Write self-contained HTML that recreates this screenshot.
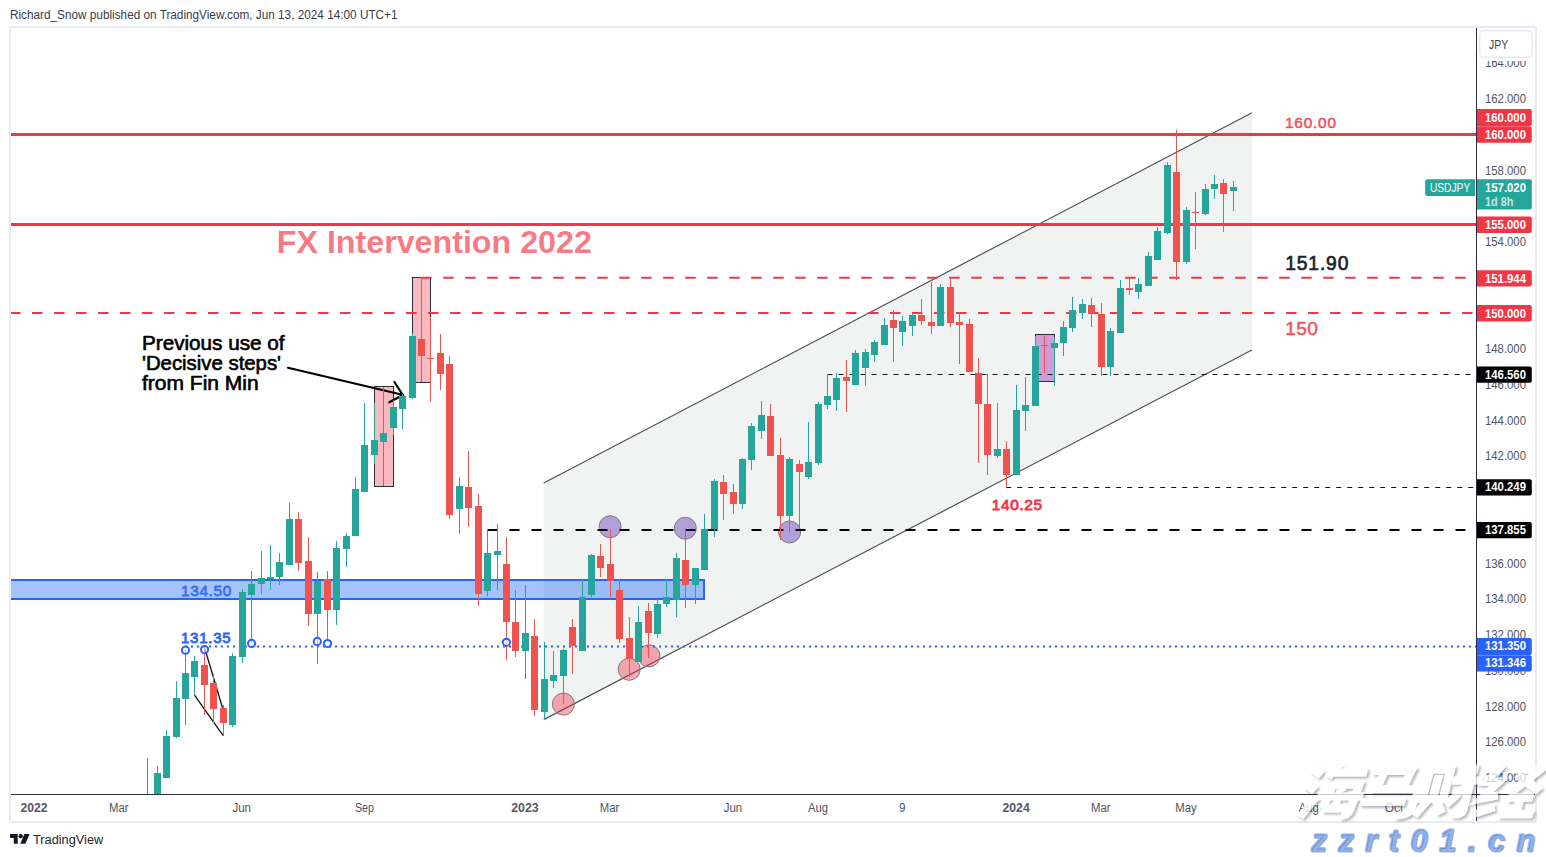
<!DOCTYPE html>
<html><head><meta charset="utf-8"><title>USDJPY</title>
<style>
html,body{margin:0;padding:0;background:#fff;}
body{width:1546px;height:857px;overflow:hidden;font-family:"Liberation Sans",sans-serif;}
svg{display:block;position:absolute;left:0;top:0;}
svg text{font-family:"Liberation Sans",sans-serif;}
</style></head><body>
<svg width="1546" height="857" viewBox="0 0 1546 857">
<defs>
<filter id="ws" x="-10%" y="-10%" width="125%" height="130%"><feDropShadow dx="2" dy="2" stdDeviation="1.1" flood-color="#3c3f4a" flood-opacity="0.5"/></filter>
<clipPath id="plot"><rect x="11" y="28" width="1465" height="766"/></clipPath>
</defs>
<rect width="1546" height="857" fill="#fff"/>
<!-- header -->
<text x="10" y="19.3" font-size="12" fill="#383b46" textLength="387.5" lengthAdjust="spacingAndGlyphs">Richard_Snow published on TradingView.com, Jun 13, 2024 14:00 UTC+1</text>
<!-- frame -->
<rect x="10" y="27" width="1526" height="795" fill="#fff" stroke="#e9ebf2" stroke-width="2"/>

<g clip-path="url(#plot)">
<!-- channel -->
<polygon points="543.7,483 1252,112.8 1252,350 543.7,719.6" fill="#f1f3f3"/>
<line x1="543.7" y1="483" x2="1252" y2="112.8" stroke="#4c4f5a" stroke-width="1.2"/>
<line x1="543.7" y1="719.6" x2="1252" y2="350" stroke="#4c4f5a" stroke-width="1.2"/>
<!-- blue band -->
<rect x="8" y="580" width="696" height="19" fill="rgb(51,122,242)" fill-opacity="0.45" stroke="#2962ff" stroke-width="2"/>
<text x="181" y="596" font-size="15.3" fill="#2962ff" stroke="#2962ff" stroke-width="0.8" fill-opacity="0.8" stroke-opacity="0.8" textLength="50.2" lengthAdjust="spacing">134.50</text>
<!-- pink / purple rects -->
<rect x="374.5" y="386.5" width="19" height="100" fill="#f23645" fill-opacity="0.35" stroke="#2a2e39" stroke-width="1"/>
<rect x="412.5" y="277.5" width="18" height="105" fill="#f23645" fill-opacity="0.35" stroke="#2a2e39" stroke-width="1"/>
<rect x="1035.5" y="334.5" width="19" height="47" fill="#9c27b0" fill-opacity="0.42" stroke="#2a2e39" stroke-width="1"/>
<!-- circles -->
<g stroke="#787b86" stroke-width="1">
<circle cx="610.1" cy="526.7" r="11" fill="#673ab7" fill-opacity="0.45"/>
<circle cx="685.3" cy="528.2" r="11" fill="#673ab7" fill-opacity="0.45"/>
<circle cx="789.6" cy="532" r="11" fill="#673ab7" fill-opacity="0.45"/>
<circle cx="563.4" cy="704.1" r="11" fill="#f23645" fill-opacity="0.42"/>
<circle cx="629.2" cy="669.3" r="11" fill="#f23645" fill-opacity="0.42"/>
<circle cx="649" cy="655.9" r="11" fill="#f23645" fill-opacity="0.42"/>
</g>
<!-- horizontal solid red lines -->
<rect x="11" y="133" width="1466" height="3" fill="#f23645"/>
<rect x="11" y="223" width="1466" height="3" fill="#f23645"/>
<!-- dashed red -->
<line x1="421.2" y1="277.8" x2="1476" y2="277.8" stroke="#f23645" stroke-width="2" stroke-dasharray="10.5 11.5"/>
<line x1="10" y1="313" x2="1476" y2="313" stroke="#f23645" stroke-width="2" stroke-dasharray="10.5 11.5"/>
<!-- thin black dashed -->
<line x1="827.5" y1="374.5" x2="1476" y2="374.5" stroke="#111" stroke-width="1.2" stroke-dasharray="5 6"/>
<line x1="1006.2" y1="487.5" x2="1476" y2="487.5" stroke="#111" stroke-width="1.2" stroke-dasharray="5 6"/>
<!-- thick black dashed -->
<line x1="487.5" y1="530" x2="1476" y2="530" stroke="#000" stroke-width="2" stroke-dasharray="10 12"/>
<!-- blue dotted -->
<line x1="185" y1="646.4" x2="1476" y2="646.4" stroke="#2962ff" stroke-width="2" stroke-dasharray="2 4"/>
<!-- texts -->
<text x="276.8" y="253.1" font-size="32" font-weight="bold" fill="#f23645" fill-opacity="0.68" textLength="315" lengthAdjust="spacingAndGlyphs">FX Intervention 2022</text>
<g font-size="19.5" fill="#000" stroke="#000" stroke-width="0.6" stroke-linejoin="round">
<text x="142" y="349.8" textLength="142.5" lengthAdjust="spacingAndGlyphs">Previous use of</text>
<text x="142" y="369.7" textLength="139" lengthAdjust="spacingAndGlyphs">'Decisive steps'</text>
<text x="142" y="389.7" textLength="116.7" lengthAdjust="spacingAndGlyphs">from Fin Min</text>
</g>
<g stroke="#000" stroke-width="2.2" fill="none" stroke-linecap="round">
<line x1="288" y1="367.8" x2="402.3" y2="394.8"/>
<polyline points="394.4,382 402.8,395 389.3,402.2"/>
</g>
<text x="1285" y="128" font-size="15.4" fill="#f5505e" stroke="#f5505e" stroke-width="0.55" textLength="51" lengthAdjust="spacing">160.00</text>
<text x="1285.2" y="269.9" font-size="19.3" fill="#1b1f2b" stroke="#1b1f2b" stroke-width="0.65" textLength="63.2" lengthAdjust="spacing">151.90</text>
<text x="1285.2" y="335.1" font-size="19.1" fill="#f5505e" stroke="#f5505e" stroke-width="0.5" textLength="32.6" lengthAdjust="spacing">150</text>
<text x="991.8" y="509.9" font-size="15.4" fill="#f23645" stroke="#f23645" stroke-width="0.85" textLength="50.3" lengthAdjust="spacing">140.25</text>
<text x="181" y="642.7" font-size="15" fill="#2962ff" stroke="#2962ff" stroke-width="0.8" textLength="49.7" lengthAdjust="spacing">131.35</text>
<!-- flag lines -->
<line x1="204.3" y1="646.8" x2="222.5" y2="707.7" stroke="#111" stroke-width="1.3"/>
<line x1="194.5" y1="695.1" x2="223.2" y2="735.7" stroke="#111" stroke-width="1.3"/>
<!-- candles -->
<g shape-rendering="crispEdges">
<rect x="147" y="758" width="1" height="36" fill="#26a69a"/>
<rect x="157" y="766" width="1" height="28" fill="#26a69a"/>
<rect x="154" y="773" width="7" height="21" fill="#26a69a"/>
<rect x="166" y="730" width="1" height="48" fill="#26a69a"/>
<rect x="163" y="736" width="7" height="42" fill="#26a69a"/>
<rect x="176" y="681" width="1" height="57" fill="#26a69a"/>
<rect x="173" y="698" width="7" height="39" fill="#26a69a"/>
<rect x="185" y="650" width="1" height="75" fill="#26a69a"/>
<rect x="182" y="673" width="7" height="26" fill="#26a69a"/>
<rect x="194" y="656" width="1" height="39" fill="#26a69a"/>
<rect x="191" y="661" width="7" height="16" fill="#26a69a"/>
<rect x="204" y="647" width="1" height="68" fill="#ef5350"/>
<rect x="201" y="665" width="7" height="20" fill="#ef5350"/>
<rect x="213" y="674" width="1" height="49" fill="#ef5350"/>
<rect x="210" y="683" width="7" height="26" fill="#ef5350"/>
<rect x="223" y="705" width="1" height="31" fill="#ef5350"/>
<rect x="220" y="708" width="7" height="15" fill="#ef5350"/>
<rect x="232" y="653" width="1" height="74" fill="#26a69a"/>
<rect x="229" y="656" width="7" height="69" fill="#26a69a"/>
<rect x="242" y="589" width="1" height="74" fill="#26a69a"/>
<rect x="239" y="592" width="7" height="65" fill="#26a69a"/>
<rect x="251" y="571" width="1" height="72" fill="#26a69a"/>
<rect x="248" y="584" width="7" height="11" fill="#26a69a"/>
<rect x="261" y="551" width="1" height="43" fill="#26a69a"/>
<rect x="258" y="578" width="7" height="6" fill="#26a69a"/>
<rect x="270" y="545" width="1" height="45" fill="#26a69a"/>
<rect x="267" y="577" width="7" height="2" fill="#26a69a"/>
<rect x="279" y="553" width="1" height="32" fill="#26a69a"/>
<rect x="276" y="562" width="7" height="15" fill="#26a69a"/>
<rect x="289" y="503" width="1" height="62" fill="#26a69a"/>
<rect x="286" y="519" width="7" height="46" fill="#26a69a"/>
<rect x="298" y="512" width="1" height="59" fill="#ef5350"/>
<rect x="295" y="519" width="7" height="44" fill="#ef5350"/>
<rect x="308" y="537" width="1" height="89" fill="#ef5350"/>
<rect x="305" y="561" width="7" height="53" fill="#ef5350"/>
<rect x="317" y="572" width="1" height="92" fill="#26a69a"/>
<rect x="314" y="581" width="7" height="33" fill="#26a69a"/>
<rect x="327" y="571" width="1" height="70" fill="#ef5350"/>
<rect x="324" y="579" width="7" height="31" fill="#ef5350"/>
<rect x="336" y="541" width="1" height="84" fill="#26a69a"/>
<rect x="333" y="548" width="7" height="62" fill="#26a69a"/>
<rect x="346" y="533" width="1" height="34" fill="#26a69a"/>
<rect x="343" y="536" width="7" height="13" fill="#26a69a"/>
<rect x="355" y="477" width="1" height="59" fill="#26a69a"/>
<rect x="352" y="489" width="7" height="47" fill="#26a69a"/>
<rect x="364" y="403" width="1" height="89" fill="#26a69a"/>
<rect x="361" y="445" width="7" height="47" fill="#26a69a"/>
<rect x="374" y="403" width="1" height="61" fill="#26a69a"/>
<rect x="371" y="440" width="7" height="15" fill="#26a69a"/>
<rect x="383" y="387" width="1" height="99" fill="#26a69a"/>
<rect x="380" y="433" width="7" height="9" fill="#26a69a"/>
<rect x="393" y="400" width="1" height="35" fill="#26a69a"/>
<rect x="390" y="407" width="7" height="21" fill="#26a69a"/>
<rect x="402" y="394" width="1" height="35" fill="#26a69a"/>
<rect x="399" y="396" width="7" height="13" fill="#26a69a"/>
<rect x="412" y="333" width="1" height="66" fill="#26a69a"/>
<rect x="409" y="336" width="7" height="62" fill="#26a69a"/>
<rect x="421" y="277" width="1" height="105" fill="#ef5350"/>
<rect x="418" y="339" width="7" height="17" fill="#ef5350"/>
<rect x="430" y="317" width="1" height="85" fill="#ef5350"/>
<rect x="427" y="358" width="7" height="1" fill="#ef5350"/>
<rect x="440" y="334" width="1" height="56" fill="#ef5350"/>
<rect x="437" y="353" width="7" height="21" fill="#ef5350"/>
<rect x="449" y="356" width="1" height="163" fill="#ef5350"/>
<rect x="446" y="364" width="7" height="151" fill="#ef5350"/>
<rect x="459" y="477" width="1" height="57" fill="#26a69a"/>
<rect x="456" y="486" width="7" height="23" fill="#26a69a"/>
<rect x="468" y="451" width="1" height="76" fill="#ef5350"/>
<rect x="465" y="487" width="7" height="21" fill="#ef5350"/>
<rect x="478" y="494" width="1" height="112" fill="#ef5350"/>
<rect x="475" y="506" width="7" height="88" fill="#ef5350"/>
<rect x="487" y="530" width="1" height="66" fill="#26a69a"/>
<rect x="484" y="553" width="7" height="38" fill="#26a69a"/>
<rect x="497" y="524" width="1" height="66" fill="#26a69a"/>
<rect x="494" y="551" width="7" height="4" fill="#26a69a"/>
<rect x="506" y="537" width="1" height="123" fill="#ef5350"/>
<rect x="503" y="564" width="7" height="58" fill="#ef5350"/>
<rect x="515" y="590" width="1" height="67" fill="#ef5350"/>
<rect x="512" y="622" width="7" height="29" fill="#ef5350"/>
<rect x="525" y="585" width="1" height="94" fill="#26a69a"/>
<rect x="522" y="633" width="7" height="18" fill="#26a69a"/>
<rect x="534" y="619" width="1" height="97" fill="#ef5350"/>
<rect x="531" y="636" width="7" height="74" fill="#ef5350"/>
<rect x="544" y="642" width="1" height="78" fill="#26a69a"/>
<rect x="541" y="679" width="7" height="33" fill="#26a69a"/>
<rect x="553" y="651" width="1" height="37" fill="#26a69a"/>
<rect x="550" y="675" width="7" height="6" fill="#26a69a"/>
<rect x="563" y="649" width="1" height="55" fill="#26a69a"/>
<rect x="560" y="650" width="7" height="26" fill="#26a69a"/>
<rect x="572" y="619" width="1" height="55" fill="#ef5350"/>
<rect x="569" y="627" width="7" height="19" fill="#ef5350"/>
<rect x="582" y="579" width="1" height="72" fill="#26a69a"/>
<rect x="579" y="597" width="7" height="54" fill="#26a69a"/>
<rect x="591" y="554" width="1" height="45" fill="#26a69a"/>
<rect x="588" y="555" width="7" height="40" fill="#26a69a"/>
<rect x="600" y="544" width="1" height="33" fill="#ef5350"/>
<rect x="597" y="556" width="7" height="12" fill="#ef5350"/>
<rect x="610" y="529" width="1" height="68" fill="#ef5350"/>
<rect x="607" y="564" width="7" height="17" fill="#ef5350"/>
<rect x="619" y="579" width="1" height="64" fill="#ef5350"/>
<rect x="616" y="590" width="7" height="49" fill="#ef5350"/>
<rect x="629" y="617" width="1" height="60" fill="#ef5350"/>
<rect x="626" y="638" width="7" height="21" fill="#ef5350"/>
<rect x="638" y="606" width="1" height="56" fill="#26a69a"/>
<rect x="635" y="622" width="7" height="40" fill="#26a69a"/>
<rect x="648" y="603" width="1" height="55" fill="#ef5350"/>
<rect x="645" y="611" width="7" height="22" fill="#ef5350"/>
<rect x="657" y="599" width="1" height="39" fill="#26a69a"/>
<rect x="654" y="604" width="7" height="30" fill="#26a69a"/>
<rect x="666" y="579" width="1" height="28" fill="#26a69a"/>
<rect x="663" y="597" width="7" height="7" fill="#26a69a"/>
<rect x="676" y="553" width="1" height="64" fill="#26a69a"/>
<rect x="673" y="558" width="7" height="42" fill="#26a69a"/>
<rect x="685" y="530" width="1" height="78" fill="#ef5350"/>
<rect x="682" y="560" width="7" height="25" fill="#ef5350"/>
<rect x="695" y="568" width="1" height="36" fill="#26a69a"/>
<rect x="692" y="568" width="7" height="17" fill="#26a69a"/>
<rect x="704" y="514" width="1" height="56" fill="#26a69a"/>
<rect x="701" y="529" width="7" height="41" fill="#26a69a"/>
<rect x="714" y="479" width="1" height="58" fill="#26a69a"/>
<rect x="711" y="481" width="7" height="48" fill="#26a69a"/>
<rect x="723" y="475" width="1" height="45" fill="#ef5350"/>
<rect x="720" y="482" width="7" height="12" fill="#ef5350"/>
<rect x="733" y="484" width="1" height="30" fill="#ef5350"/>
<rect x="730" y="492" width="7" height="12" fill="#ef5350"/>
<rect x="742" y="458" width="1" height="51" fill="#26a69a"/>
<rect x="739" y="459" width="7" height="45" fill="#26a69a"/>
<rect x="751" y="423" width="1" height="47" fill="#26a69a"/>
<rect x="748" y="426" width="7" height="34" fill="#26a69a"/>
<rect x="761" y="401" width="1" height="38" fill="#26a69a"/>
<rect x="758" y="415" width="7" height="16" fill="#26a69a"/>
<rect x="770" y="404" width="1" height="52" fill="#ef5350"/>
<rect x="767" y="416" width="7" height="40" fill="#ef5350"/>
<rect x="780" y="438" width="1" height="102" fill="#ef5350"/>
<rect x="777" y="455" width="7" height="61" fill="#ef5350"/>
<rect x="789" y="457" width="1" height="75" fill="#26a69a"/>
<rect x="786" y="459" width="7" height="57" fill="#26a69a"/>
<rect x="799" y="460" width="1" height="68" fill="#ef5350"/>
<rect x="796" y="464" width="7" height="8" fill="#ef5350"/>
<rect x="808" y="422" width="1" height="57" fill="#26a69a"/>
<rect x="805" y="462" width="7" height="15" fill="#26a69a"/>
<rect x="818" y="402" width="1" height="63" fill="#26a69a"/>
<rect x="815" y="404" width="7" height="59" fill="#26a69a"/>
<rect x="827" y="374" width="1" height="35" fill="#26a69a"/>
<rect x="824" y="396" width="7" height="9" fill="#26a69a"/>
<rect x="836" y="373" width="1" height="38" fill="#26a69a"/>
<rect x="833" y="378" width="7" height="22" fill="#26a69a"/>
<rect x="846" y="360" width="1" height="52" fill="#ef5350"/>
<rect x="843" y="377" width="7" height="4" fill="#ef5350"/>
<rect x="855" y="350" width="1" height="35" fill="#26a69a"/>
<rect x="852" y="353" width="7" height="32" fill="#26a69a"/>
<rect x="865" y="349" width="1" height="37" fill="#26a69a"/>
<rect x="862" y="352" width="7" height="16" fill="#26a69a"/>
<rect x="874" y="340" width="1" height="22" fill="#26a69a"/>
<rect x="871" y="342" width="7" height="13" fill="#26a69a"/>
<rect x="884" y="318" width="1" height="27" fill="#26a69a"/>
<rect x="881" y="325" width="7" height="20" fill="#26a69a"/>
<rect x="893" y="310" width="1" height="52" fill="#ef5350"/>
<rect x="890" y="320" width="7" height="8" fill="#ef5350"/>
<rect x="902" y="316" width="1" height="30" fill="#26a69a"/>
<rect x="899" y="321" width="7" height="11" fill="#26a69a"/>
<rect x="912" y="313" width="1" height="23" fill="#26a69a"/>
<rect x="909" y="315" width="7" height="11" fill="#26a69a"/>
<rect x="921" y="299" width="1" height="26" fill="#ef5350"/>
<rect x="918" y="315" width="7" height="6" fill="#ef5350"/>
<rect x="931" y="282" width="1" height="52" fill="#ef5350"/>
<rect x="928" y="322" width="7" height="4" fill="#ef5350"/>
<rect x="940" y="284" width="1" height="42" fill="#26a69a"/>
<rect x="937" y="287" width="7" height="39" fill="#26a69a"/>
<rect x="950" y="278" width="1" height="49" fill="#ef5350"/>
<rect x="947" y="287" width="7" height="36" fill="#ef5350"/>
<rect x="959" y="313" width="1" height="51" fill="#ef5350"/>
<rect x="956" y="322" width="7" height="3" fill="#ef5350"/>
<rect x="969" y="319" width="1" height="53" fill="#ef5350"/>
<rect x="966" y="324" width="7" height="48" fill="#ef5350"/>
<rect x="978" y="358" width="1" height="105" fill="#ef5350"/>
<rect x="975" y="373" width="7" height="31" fill="#ef5350"/>
<rect x="987" y="374" width="1" height="101" fill="#ef5350"/>
<rect x="984" y="404" width="7" height="51" fill="#ef5350"/>
<rect x="997" y="403" width="1" height="55" fill="#26a69a"/>
<rect x="994" y="449" width="7" height="7" fill="#26a69a"/>
<rect x="1006" y="441" width="1" height="47" fill="#ef5350"/>
<rect x="1003" y="449" width="7" height="26" fill="#ef5350"/>
<rect x="1016" y="385" width="1" height="90" fill="#26a69a"/>
<rect x="1013" y="410" width="7" height="65" fill="#26a69a"/>
<rect x="1025" y="377" width="1" height="54" fill="#26a69a"/>
<rect x="1022" y="405" width="7" height="6" fill="#26a69a"/>
<rect x="1035" y="336" width="1" height="70" fill="#26a69a"/>
<rect x="1032" y="346" width="7" height="60" fill="#26a69a"/>
<rect x="1044" y="336" width="1" height="37" fill="#ef5350"/>
<rect x="1041" y="345" width="7" height="1" fill="#ef5350"/>
<rect x="1054" y="337" width="1" height="49" fill="#26a69a"/>
<rect x="1051" y="343" width="7" height="5" fill="#26a69a"/>
<rect x="1063" y="321" width="1" height="35" fill="#26a69a"/>
<rect x="1060" y="327" width="7" height="16" fill="#26a69a"/>
<rect x="1072" y="297" width="1" height="35" fill="#26a69a"/>
<rect x="1069" y="310" width="7" height="18" fill="#26a69a"/>
<rect x="1082" y="299" width="1" height="20" fill="#26a69a"/>
<rect x="1079" y="304" width="7" height="9" fill="#26a69a"/>
<rect x="1091" y="298" width="1" height="29" fill="#ef5350"/>
<rect x="1088" y="305" width="7" height="8" fill="#ef5350"/>
<rect x="1101" y="303" width="1" height="73" fill="#ef5350"/>
<rect x="1098" y="314" width="7" height="53" fill="#ef5350"/>
<rect x="1110" y="328" width="1" height="48" fill="#26a69a"/>
<rect x="1107" y="331" width="7" height="36" fill="#26a69a"/>
<rect x="1120" y="280" width="1" height="53" fill="#26a69a"/>
<rect x="1117" y="288" width="7" height="45" fill="#26a69a"/>
<rect x="1129" y="278" width="1" height="17" fill="#ef5350"/>
<rect x="1126" y="288" width="7" height="2" fill="#ef5350"/>
<rect x="1138" y="278" width="1" height="21" fill="#26a69a"/>
<rect x="1135" y="284" width="7" height="8" fill="#26a69a"/>
<rect x="1148" y="252" width="1" height="34" fill="#26a69a"/>
<rect x="1145" y="256" width="7" height="30" fill="#26a69a"/>
<rect x="1157" y="227" width="1" height="33" fill="#26a69a"/>
<rect x="1154" y="231" width="7" height="29" fill="#26a69a"/>
<rect x="1167" y="162" width="1" height="72" fill="#26a69a"/>
<rect x="1164" y="165" width="7" height="68" fill="#26a69a"/>
<rect x="1176" y="130" width="1" height="150" fill="#ef5350"/>
<rect x="1173" y="172" width="7" height="90" fill="#ef5350"/>
<rect x="1186" y="207" width="1" height="57" fill="#26a69a"/>
<rect x="1183" y="210" width="7" height="52" fill="#26a69a"/>
<rect x="1195" y="192" width="1" height="57" fill="#ef5350"/>
<rect x="1192" y="212" width="7" height="1" fill="#ef5350"/>
<rect x="1205" y="184" width="1" height="31" fill="#26a69a"/>
<rect x="1202" y="189" width="7" height="25" fill="#26a69a"/>
<rect x="1214" y="175" width="1" height="24" fill="#26a69a"/>
<rect x="1211" y="184" width="7" height="5" fill="#26a69a"/>
<rect x="1223" y="179" width="1" height="53" fill="#ef5350"/>
<rect x="1220" y="183" width="7" height="11" fill="#ef5350"/>
<rect x="1233" y="181" width="1" height="30" fill="#26a69a"/>
<rect x="1230" y="187" width="7" height="4" fill="#26a69a"/>
</g>
<!-- small blue circles -->
<g stroke="#2962ff" stroke-width="2" fill="#fff" fill-opacity="0.55">
<circle cx="185.5" cy="650.2" r="3.6"/><circle cx="204.6" cy="649.6" r="3.6"/><circle cx="251.6" cy="643.4" r="3.6"/>
<circle cx="317.3" cy="641.4" r="3.6"/><circle cx="327.5" cy="643.5" r="3.6"/><circle cx="506.4" cy="642.3" r="3.6"/>
</g>
<!-- USDJPY tag -->
<path d="M1427.2 179.3H1475V195.9H1427.2a2 2 0 0 1 -2 -2V181.3a2 2 0 0 1 2 -2Z" fill="#26a69a"/>
<text x="1429.9" y="191.8" font-size="12" fill="#fff" textLength="40.3" lengthAdjust="spacingAndGlyphs">USDJPY</text>
</g>

<!-- price axis -->
<g font-size="12" fill="#50535e">
<text x="1485" y="782.0" textLength="41" lengthAdjust="spacingAndGlyphs">124.000</text>
<text x="1485" y="746.2" textLength="41" lengthAdjust="spacingAndGlyphs">126.000</text>
<text x="1485" y="710.5" textLength="41" lengthAdjust="spacingAndGlyphs">128.000</text>
<text x="1485" y="674.8" textLength="41" lengthAdjust="spacingAndGlyphs">130.000</text>
<text x="1485" y="639.0" textLength="41" lengthAdjust="spacingAndGlyphs">132.000</text>
<text x="1485" y="603.3" textLength="41" lengthAdjust="spacingAndGlyphs">134.000</text>
<text x="1485" y="567.6" textLength="41" lengthAdjust="spacingAndGlyphs">136.000</text>
<text x="1485" y="460.4" textLength="41" lengthAdjust="spacingAndGlyphs">142.000</text>
<text x="1485" y="424.6" textLength="41" lengthAdjust="spacingAndGlyphs">144.000</text>
<text x="1485" y="388.9" textLength="41" lengthAdjust="spacingAndGlyphs">146.000</text>
<text x="1485" y="353.1" textLength="41" lengthAdjust="spacingAndGlyphs">148.000</text>
<text x="1485" y="245.9" textLength="41" lengthAdjust="spacingAndGlyphs">154.000</text>
<text x="1485" y="174.5" textLength="41" lengthAdjust="spacingAndGlyphs">158.000</text>
<text x="1485" y="103.0" textLength="41" lengthAdjust="spacingAndGlyphs">162.000</text>
<text x="1485" y="67.3" textLength="41" lengthAdjust="spacingAndGlyphs">164.000</text>
</g>
<rect x="1477" y="28" width="57" height="33" fill="#fff"/>
<rect x="1479.7" y="30.7" width="52.3" height="26.6" rx="4" fill="#fff" stroke="#e3e5ec" stroke-width="1.2"/>
<text x="1489.1" y="48.9" font-size="12" fill="#40434e" textLength="19.2" lengthAdjust="spacingAndGlyphs">JPY</text>
<g font-size="12">
<path d="M1476 109H1529.8a2 2 0 0 1 2 2V123.9a2 2 0 0 1 -2 2H1476Z" fill="#f23645"/><text x="1485" y="121.7" textLength="41" lengthAdjust="spacingAndGlyphs" fill="#fff" font-weight="bold">160.000</text>
<path d="M1476 126.3H1529.8a2 2 0 0 1 2 2V140.8a2 2 0 0 1 -2 2H1476Z" fill="#f23645"/><text x="1485" y="138.9" textLength="41" lengthAdjust="spacingAndGlyphs" fill="#fff" font-weight="bold">160.000</text>
<path d="M1476 179.3H1529.8a2 2 0 0 1 2 2V207.5a2 2 0 0 1 -2 2H1476Z" fill="#26a69a"/><text x="1485" y="191.8" textLength="41" lengthAdjust="spacingAndGlyphs" fill="#fff" font-weight="bold">157.020</text><text x="1485" y="205.8" textLength="28.5" lengthAdjust="spacingAndGlyphs" fill="#fff" fill-opacity="0.72" font-weight="bold">1d 8h</text>
<path d="M1476 216.4H1529.8a2 2 0 0 1 2 2V230.9a2 2 0 0 1 -2 2H1476Z" fill="#f23645"/><text x="1485" y="228.6" textLength="41" lengthAdjust="spacingAndGlyphs" fill="#fff" font-weight="bold">155.000</text>
<path d="M1476 270.3H1529.8a2 2 0 0 1 2 2V284.6a2 2 0 0 1 -2 2H1476Z" fill="#f23645"/><text x="1485" y="282.6" textLength="41" lengthAdjust="spacingAndGlyphs" fill="#fff" font-weight="bold">151.944</text>
<path d="M1476 305.1H1529.8a2 2 0 0 1 2 2V319.6a2 2 0 0 1 -2 2H1476Z" fill="#f23645"/><text x="1485" y="317.5" textLength="41" lengthAdjust="spacingAndGlyphs" fill="#fff" font-weight="bold">150.000</text>
<path d="M1476 366.6H1529.8a2 2 0 0 1 2 2V380.8a2 2 0 0 1 -2 2H1476Z" fill="#000"/><text x="1485" y="378.8" textLength="41" lengthAdjust="spacingAndGlyphs" fill="#fff" font-weight="bold">146.560</text>
<path d="M1476 479.3H1529.8a2 2 0 0 1 2 2V493.4a2 2 0 0 1 -2 2H1476Z" fill="#000"/><text x="1485" y="491.4" textLength="41" lengthAdjust="spacingAndGlyphs" fill="#fff" font-weight="bold">140.249</text>
<path d="M1476 521.9H1529.8a2 2 0 0 1 2 2V536.2a2 2 0 0 1 -2 2H1476Z" fill="#000"/><text x="1485" y="534.2" textLength="41" lengthAdjust="spacingAndGlyphs" fill="#fff" font-weight="bold">137.855</text>
<path d="M1476 638H1529.8a2 2 0 0 1 2 2V653.1a2 2 0 0 1 -2 2H1476Z" fill="#2962ff"/><text x="1485" y="650.2" textLength="41" lengthAdjust="spacingAndGlyphs" fill="#fff" font-weight="bold">131.350</text>
<path d="M1476 655.3H1529.8a2 2 0 0 1 2 2V669.4a2 2 0 0 1 -2 2H1476Z" fill="#2962ff"/><text x="1485" y="667.4" textLength="41" lengthAdjust="spacingAndGlyphs" fill="#fff" font-weight="bold">131.346</text>
</g>
<rect x="1476" y="28" width="1" height="793" fill="#2a2e39"/>
<!-- time axis -->
<rect x="11" y="794" width="1524" height="1" fill="#2a2e39"/>
<g font-size="12" fill="#50535e">
<text x="20.6" y="811.9" textLength="27" lengthAdjust="spacingAndGlyphs" font-weight="bold" fill="#555863">2022</text>
<text x="109" y="811.9" textLength="19.5" lengthAdjust="spacingAndGlyphs">Mar</text>
<text x="232.5" y="811.9" textLength="18.5" lengthAdjust="spacingAndGlyphs">Jun</text>
<text x="355" y="811.9" textLength="19" lengthAdjust="spacingAndGlyphs">Sep</text>
<text x="511.2" y="811.9" textLength="27.5" lengthAdjust="spacingAndGlyphs" font-weight="bold" fill="#555863">2023</text>
<text x="599.8" y="811.9" textLength="19.5" lengthAdjust="spacingAndGlyphs">Mar</text>
<text x="723.7" y="811.9" textLength="18.5" lengthAdjust="spacingAndGlyphs">Jun</text>
<text x="808.1" y="811.9" textLength="20" lengthAdjust="spacingAndGlyphs">Aug</text>
<text x="899" y="811.9" textLength="6.5" lengthAdjust="spacingAndGlyphs">9</text>
<text x="1002.5" y="811.9" textLength="27.2" lengthAdjust="spacingAndGlyphs" font-weight="bold" fill="#555863">2024</text>
<text x="1091.1" y="811.9" textLength="19.5" lengthAdjust="spacingAndGlyphs">Mar</text>
<text x="1175.2" y="811.9" textLength="21.5" lengthAdjust="spacingAndGlyphs">May</text>
<text x="1298.8" y="811.9" textLength="20" lengthAdjust="spacingAndGlyphs">Aug</text>
<text x="1384.8" y="811.9" textLength="18.5" lengthAdjust="spacingAndGlyphs">Oct</text>
</g>
<!-- tradingview logo -->
<g fill="#131722">
<path d="M10.1 834.1h7.6v9.6h-3.9v-5.7h-3.7z"/>
<circle cx="20.7" cy="836.2" r="2.15"/>
<path d="M24.3 834.1h5.2l-4.1 9.6h-5.1z"/>
</g>
<text x="33" y="843.7" font-size="12.5" fill="#1e222d" textLength="70.2" lengthAdjust="spacingAndGlyphs">TradingView</text>

<!-- watermark -->
<g filter="url(#ws)" opacity="0.74">
<g transform="translate(1305,764.5) skewX(-15) scale(0.575,0.535)" stroke="#fff" stroke-width="15" fill="none" stroke-linejoin="miter" stroke-linecap="butt">
 <g transform="translate(12,0)">
  <path d="M4 8L22 20M0 38L18 48M4 98L22 62"/>
  <path d="M48 0L34 24M40 15H100M46 38H92L87 88Q86 96 74 96M46 38L39 82M24 60H104M39 82H86M60 44L65 52M57 68L62 76"/>
 </g>
 <g transform="translate(112,0)">
  <path d="M10 12H76L70 42M30 12L24 46H98L92 86Q90 96 70 95M2 70H80"/>
 </g>
 <g transform="translate(212,0)">
  <path d="M8 10H44V64H8ZM26 20V58M20 64L2 96M34 68L48 92M52 30H104M84 0V86Q84 96 68 92M82 36L52 76"/>
 </g>
 <g transform="translate(316,0)">
  <path d="M28 0L8 32H30L6 64L34 58M2 92L34 80M46 10H96L60 48M58 18L104 50M52 62H96M74 62V92M44 93H104"/>
 </g>
</g>
</g>
<text x="1311" y="851.3" font-size="31" font-weight="bold" font-style="italic" fill="#8fb1f8" stroke="#8fb1f8" stroke-width="1.1" textLength="224" lengthAdjust="spacing" style="text-shadow:1px 1px 0 rgba(90,120,110,0.5)">zzrt01.cn</text>
</svg>
</body></html>
